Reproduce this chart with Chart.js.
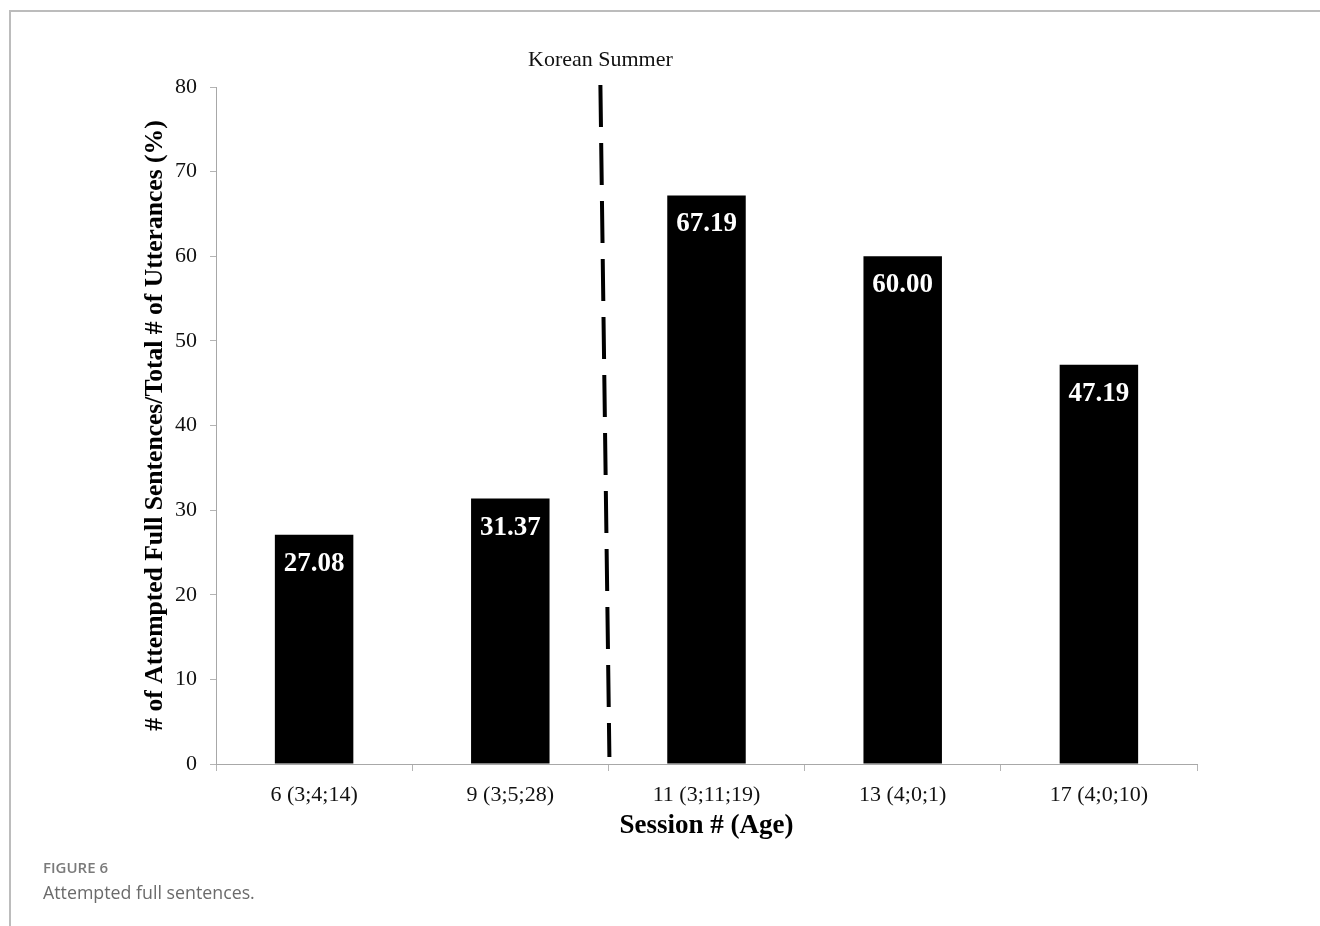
<!DOCTYPE html>
<html>
<head>
<meta charset="utf-8">
<script src="https://cdn.jsdelivr.net/npm/chart.js@4.4.0/dist/chart.umd.min.js"></script>
<style>
  html, body { margin: 0; padding: 0; background: #fff; }
  body { width: 1320px; height: 926px; position: relative; overflow: hidden; }
  #frame { position: absolute; left: 9px; top: 10px; width: 1320px; height: 930px;
           border-left: 2px solid #bcbcbc; border-top: 2px solid #bcbcbc; }
  #chart { position: absolute; left: 0; top: 0; }
  .cap { position: absolute; left: 43px; font-family: "Open Sans", sans-serif; color: #6b6b6b; }
  #figno { top: 857px; font-size: 15px; font-weight: 600; color: #7a7a7a; }
  #figtxt { top: 880px; font-size: 17.8px; }
</style>
</head>
<body>
<div id="frame"></div>
<canvas id="chart" width="1320" height="926"></canvas>
<div class="cap" id="figno">FIGURE 6</div>
<div class="cap" id="figtxt">Attempted full sentences.</div>
<script>
// Sessions (with child's age) and share of attempted full sentences
const sessions = ["6 (3;4;14)", "9 (3;5;28)", "11 (3;11;19)", "13 (4;0;1)", "17 (4;0;10)"];
const fullSentencePct = [27.08, 31.37, 67.19, 60.00, 47.19];
const yTicks = [0, 10, 20, 30, 40, 50, 60, 70, 80];
const breakLabel = "Korean Summer";
const breakAfterIndex = 1; // the summer break falls between sessions 9 and 11

const SERIF = '"Liberation Serif", "Times New Roman", serif';

// White value labels inside the top of each bar, plus the dashed break marker
const overlay = {
  id: 'overlay',
  afterDatasetsDraw(chart) {
    const ctx = chart.ctx;
    const meta = chart.getDatasetMeta(0);
    ctx.save();
    ctx.fillStyle = '#fff';
    ctx.font = 'bold 27px ' + SERIF;
    ctx.textAlign = 'center';
    ctx.textBaseline = 'middle';
    meta.data.forEach((bar, i) => {
      ctx.fillText(fullSentencePct[i].toFixed(2), bar.x, bar.y + 29);
    });
    ctx.restore();

    const xs = chart.scales.x, ys = chart.scales.y;
    const xb = (xs.getPixelForValue(breakAfterIndex) + xs.getPixelForValue(breakAfterIndex + 1)) / 2;
    const yTop = ys.getPixelForValue(ys.max) - 2;
    const yBot = ys.getPixelForValue(ys.min) - 7;
    ctx.save();
    ctx.strokeStyle = '#000';
    ctx.lineWidth = 4;
    ctx.setLineDash([42, 16]);
    ctx.beginPath();
    ctx.moveTo(xb - 8, yTop);
    ctx.lineTo(xb + 1, yBot);
    ctx.stroke();
    ctx.setLineDash([]);
    ctx.fillStyle = '#111';
    ctx.font = '22px ' + SERIF;
    ctx.textAlign = 'center';
    ctx.textBaseline = 'middle';
    ctx.fillText(breakLabel, xb - 8, yTop - 25);
    ctx.restore();
  }
};

new Chart(document.getElementById('chart'), {
  type: 'bar',
  data: {
    labels: sessions,
    datasets: [{
      data: fullSentencePct,
      backgroundColor: '#000',
      borderWidth: 0,
      barPercentage: 0.4,
      categoryPercentage: 1.0
    }]
  },
  options: {
    responsive: false,
    animation: false,
    devicePixelRatio: 1,
    layout: { padding: { left: 133, top: 87, right: 123, bottom: 80 } },
    plugins: { legend: { display: false }, tooltip: { enabled: false } },
    scales: {
      x: {
        afterFit: s => { s.height = 82; },
        grid: { offset: true, drawOnChartArea: false, tickLength: 7, color: '#b4b4b4', lineWidth: 1 },
        border: { color: '#a8a8a8', width: 1 },
        ticks: { color: '#111', font: { family: SERIF, size: 22 }, padding: 11, maxRotation: 0 },
        title: { display: true, text: 'Session # (Age)', color: '#000',
                 font: { family: SERIF, size: 27, weight: 'bold' }, padding: { top: 0, bottom: 4 } }
      },
      y: {
        min: 0, max: 80,
        afterFit: s => { s.width = 83; },
        afterBuildTicks: s => { s.ticks = yTicks.map(v => ({ value: v })); },
        grid: { drawOnChartArea: false, tickLength: 6, color: '#b4b4b4', lineWidth: 1 },
        border: { color: '#a8a8a8', width: 1 },
        ticks: { color: '#111', font: { family: SERIF, size: 22 }, padding: 13 },
        title: { display: true, text: '# of Attempted Full Sentences/Total # of Utterances (%)', color: '#000',
                 font: { family: SERIF, size: 25.6, weight: 'bold' }, padding: { top: 7, bottom: 0 } }
      }
    }
  },
  plugins: [overlay]
});
</script>
</body>
</html>
